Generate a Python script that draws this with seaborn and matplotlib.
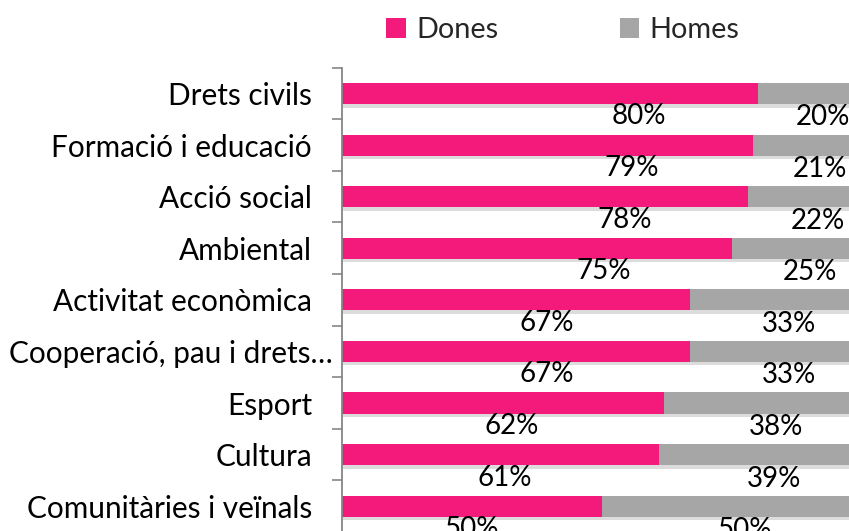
import matplotlib
matplotlib.use("Agg")
import matplotlib.pyplot as plt
import matplotlib.patheffects as pe
from matplotlib.patches import Patch
from matplotlib.transforms import ScaledTranslation
import seaborn as sns
import pandas as pd

categories = ["Drets civils", "Formació i educació", "Acció social", "Ambiental",
              "Activitat econòmica", "Cooperació, pau i drets…", "Esport", "Cultura",
              "Comunitàries i veïnals"]
dones = [0.80, 0.79, 0.78, 0.75, 0.67, 0.67, 0.62, 0.61, 0.50]
homes = [0.20, 0.21, 0.22, 0.25, 0.33, 0.33, 0.38, 0.39, 0.50]
series_names = ["Dones", "Homes"]

PINK = "#F31A7B"
GRAY = "#A6A6A6"
AXC = "#868686"

sns.set_style("white")
plt.rcParams["font.family"] = ["Lato", "DejaVu Sans"]
FS_CAT = 21.4
FS_VAL = 20
FS_LEG = 20.8

df = pd.DataFrame({"cat": categories, "dones": dones, "homes": homes})
df["total"] = df["dones"] + df["homes"]

fig = plt.figure(figsize=(8.49, 5.31), dpi=100)
ax = fig.add_axes([342 / 849, -1 / 531, 520 / 849, 464.3 / 531])

shadow = [pe.SimplePatchShadow(offset=(1.0, -2.5), shadow_rgbFace="#777777", alpha=0.25), pe.Normal()]

sns.barplot(data=df, x="total", y="cat", color=GRAY, orient="h", width=0.41,
            ax=ax, saturation=1, edgecolor="none")
sns.barplot(data=df, x="dones", y="cat", color=PINK, orient="h", width=0.41,
            ax=ax, saturation=1, edgecolor="none")
for i, p in enumerate(ax.patches):
    if i < len(categories):
        p.set_path_effects(shadow)

ax.set_xlim(0, 1)
ax.set_ylim(len(categories) - 0.5, -0.5)
ax.set_xlabel("")
ax.set_ylabel("")
ax.set_xticks([])

for s in ["top", "right", "bottom"]:
    ax.spines[s].set_visible(False)
ax.spines["left"].set_color(AXC)
ax.spines["left"].set_linewidth(1.3)

ax.set_yticks(range(len(categories)))
ax.set_yticklabels(categories, fontsize=FS_CAT, color="black")
ax.tick_params(axis="y", which="major", left=True, length=0, pad=21.6)
ax.set_yticks([i - 0.5 for i in range(len(categories) + 1)], minor=True)
ax.tick_params(axis="y", which="minor", left=True, length=7, width=1.2, color=AXC, direction="out")

for lab in ax.get_yticklabels():
    if "…" in lab.get_text():
        lab.set_transform(lab.get_transform() + ScaledTranslation(21 / 100, 0, fig.dpi_scale_trans))

# data labels below the bars
for i, (d, h) in enumerate(zip(dones, homes)):
    xd = d / 2 + 0.85 * max(0.0, d - 0.6)
    xh = d + h / 2 + 0.025
    ax.text(xd, i + 0.6, f"{round(d * 100)}%", ha="center", va="baseline", fontsize=FS_VAL,
            color="black", clip_on=False)
    ax.text(xh, i + 0.62, f"{round(h * 100)}%", ha="center", va="baseline", fontsize=FS_VAL,
            color="black", clip_on=False)

handles = [Patch(facecolor=PINK, edgecolor="none"), Patch(facecolor=GRAY, edgecolor="none")]
fig.legend(handles, series_names, loc="center", bbox_to_anchor=(563 / 849, 1 - 30 / 531),
           ncol=2, frameon=False, fontsize=FS_LEG, handlelength=0.68, handleheight=0.68,
           handletextpad=0.36, columnspacing=4.2, borderpad=0, borderaxespad=0)

fig.savefig("out.png", dpi=100)
